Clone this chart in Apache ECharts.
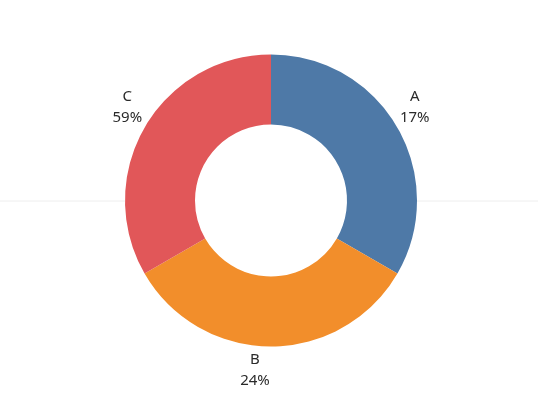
<!DOCTYPE html>
<html>
<head>
<meta charset="utf-8">
<script src="https://cdn.jsdelivr.net/npm/echarts@6/dist/echarts.min.js"></script>
<style>
  html, body { margin: 0; padding: 0; background: #fff; }
  #donut { width: 538px; height: 407px; }
</style>
</head>
<body>
<div id="donut"></div>
<script>
// slices are drawn as equal thirds, labels carry the shown percentages
var categories = ['A', 'B', 'C'];
var sliceValues = [1, 1, 1];
var pctLabels = ['17%', '24%', '59%'];
var colors = ['#4e79a7', '#f28e2b', '#e15759'];

var cx = 271, cy = 200.5, rIn = 76, rOut = 146;
// small nudges so the labels sit where the original put them
var labelNudge = { A: [-7, -6], B: [-16, -4], C: [7, -6] };

var myChart = echarts.init(document.getElementById('donut'));

var ringData = categories.map(function (c, i) {
  return { name: c, value: sliceValues[i], itemStyle: { color: colors[i] } };
});
var labelData = categories.map(function (c, i) {
  return { name: c, value: sliceValues[i], label: { offset: labelNudge[c] } };
});

var option = {
  animation: false,
  graphic: [
    { type: 'line', z: -10, shape: { x1: 0, y1: 201, x2: cx - rOut, y2: 201 },
      style: { stroke: '#eeeeee', lineWidth: 1 } },
    { type: 'line', z: -10, shape: { x1: cx + rOut, y1: 201, x2: 538, y2: 201 },
      style: { stroke: '#eeeeee', lineWidth: 1 } }
  ],
  series: [
    {
      name: 'ring',
      type: 'pie',
      center: [cx, cy],
      radius: [rIn, rOut],
      startAngle: 90,
      clockwise: true,
      silent: true,
      label: { show: false },
      labelLine: { show: false },
      data: ringData
    },
    {
      // invisible ring just to place the labels outside the donut
      name: 'labels',
      type: 'pie',
      center: [cx, cy],
      radius: [rOut + 2, rOut + 48],
      startAngle: 90,
      clockwise: true,
      silent: true,
      itemStyle: { color: 'rgba(0,0,0,0)' },
      label: {
        show: true,
        position: 'inside',
        color: '#2a2a2a',
        fontFamily: 'Noto Sans',
        fontSize: 15,
        lineHeight: 21,
        align: 'center',
        formatter: function (p) {
          return p.name + '\n' + pctLabels[p.dataIndex];
        }
      },
      labelLine: { show: false },
      data: labelData
    }
  ]
};

myChart.setOption(option);
</script>
</body>
</html>
